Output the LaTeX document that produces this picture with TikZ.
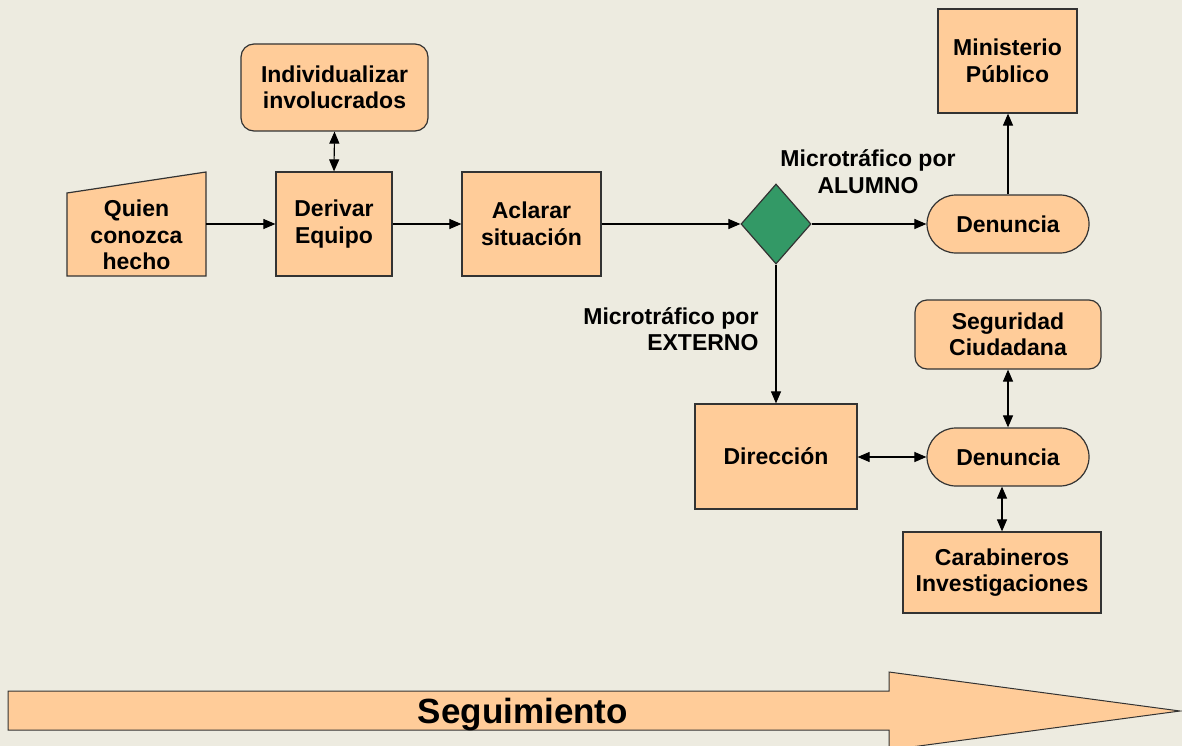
\documentclass[tikz,border=0pt]{standalone}
\usepackage{fontspec}
\setmainfont{Liberation Sans}
\usetikzlibrary{shapes.misc,shapes.geometric,arrows.meta,calc}
\definecolor{bg}{HTML}{EDEBE0}
\definecolor{boxfill}{HTML}{FFCC99}
\definecolor{dgreen}{HTML}{339966}
\definecolor{edge}{HTML}{333333}
\tikzset{
  txt/.style={font=\fontsize{23}{26.5}\selectfont\bfseries, align=center, text=black},
  box/.style={txt, draw=edge, line width=1.2pt, fill=boxfill, rectangle, inner sep=0pt},
  rbox/.style={box, rounded corners=13pt},
  pill/.style={txt, draw=edge, line width=1.2pt, fill=boxfill, rounded rectangle, inner sep=0pt, minimum width=162pt, minimum height=58pt},
  conn/.style={line width=1.1pt, draw=black, -{Triangle[length=12pt,width=10pt]}},
  dconn/.style={line width=1.1pt, draw=black, {Triangle[length=12pt,width=10pt]}-{Triangle[length=12pt,width=10pt]}},
  lbl/.style={font=\fontsize{23}{26.5}\selectfont\bfseries, text=black}
}
\begin{document}
\begin{tikzpicture}[x=1pt,y=-1pt]
\fill[bg] (0,0) rectangle (1182,746);
\useasboundingbox (0,0) rectangle (1182,746);

% Quien conozca hecho (manual input shape)
\coordinate (qsw) at (67,276);
\coordinate (qse) at (206,276);
\coordinate (qne) at (206,172);
\coordinate (qnw) at (67,193);
\filldraw[fill=boxfill, draw=edge, line width=1.2pt] (qsw) -- (qse) -- (qne) -- (qnw) -- cycle;
\node[txt, minimum width=139pt, minimum height=104pt, inner sep=0pt] (quien) at (136.5,235) {Quien\\conozca\\hecho};

\node[box, minimum width=116pt, minimum height=104pt] (derivar) at (334,224) {Derivar\\Equipo};
\node[rbox, minimum width=187pt, minimum height=87pt] (indiv) at (334.5,87.5) {Individualizar\\involucrados};
\node[box, minimum width=139pt, minimum height=104pt] (aclarar) at (531.5,224) {Aclarar\\situación};
\node[diamond, draw=edge, line width=1.2pt, fill=dgreen, minimum width=70pt, minimum height=80pt, inner sep=0pt] (dec) at (776,224) {};
\node[pill] (den1) at (1008,224) {Denuncia};
\node[box, minimum width=139pt, minimum height=104pt] (mp) at (1007.5,61) {Ministerio\\Público};
\node[box, minimum width=162pt, minimum height=105pt] (dir) at (776,456.5) {Dirección};
\node[pill] (den2) at (1008,457) {Denuncia};
\node[rbox, rounded corners=12pt, minimum width=186pt, minimum height=69pt] (seg) at (1008,334.5) {Seguridad\\Ciudadana};
\node[box, minimum width=198pt, minimum height=81pt] (carab) at (1002,572.5) {Carabineros\\Investigaciones};

\node[lbl, align=center] (lalumno) at (868,171.5) {Microtráfico por\\ALUMNO};
\node[lbl, align=right, anchor=east] (lexterno) at (762,329) {Microtráfico por\\EXTERNO};

% connectors
\draw[conn] (quien.east |- derivar.west) -- (derivar.west);
\draw[dconn] (indiv.south) -- (derivar.north);
\draw[conn] (derivar.east) -- (aclarar.west);
\draw[conn] (aclarar.east) -- (dec.west);
\draw[conn] (dec.east) -- (den1.west);
\draw[conn] (den1.north) -- (mp.south -| den1.north);
\draw[conn] (dec.south) -- (dir.north);
\draw[dconn] (dir.east |- den2.west) -- (den2.west);
\draw[dconn] (seg.south) -- (den2.north);
\draw[dconn] (den2.south -| carab.north) -- (carab.north);

% Seguimiento arrow
\filldraw[fill=boxfill, draw=edge, line width=1pt] (8,691) -- (889,691) -- (889,672) -- (1180,711) -- (889,750) -- (889,730) -- (8,730) -- cycle;
\node[font=\fontsize{35}{40}\selectfont\bfseries, text=black, anchor=base] (seguim) at (523,723) {Seguimiento};
\end{tikzpicture}
\end{document}
